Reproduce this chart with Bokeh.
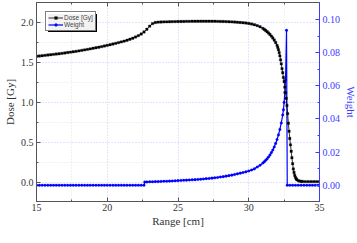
from bokeh.plotting import figure
from bokeh.models import (Range1d, LinearAxis, FixedTicker, Legend, LegendItem,
                          PrintfTickFormatter, BoxAnnotation)
from bokeh.embed import file_html
from bokeh.resources import INLINE

# ---- data ----
dose_range_cm = [
    15.0, 15.2, 15.4, 15.6, 15.8, 16.0, 16.2, 16.4, 16.6, 16.8,
    17.0, 17.2, 17.4, 17.6, 17.8, 18.0, 18.2, 18.4, 18.6, 18.8,
    19.0, 19.2, 19.4, 19.6, 19.8, 20.0, 20.2, 20.4, 20.6, 20.8,
    21.0, 21.2, 21.4, 21.6, 21.8, 22.0, 22.2, 22.4, 22.6, 22.8,
    23.0, 23.2, 23.4, 23.6, 23.8, 24.0, 24.2, 24.4, 24.6, 24.8,
    25.0, 25.2, 25.4, 25.6, 25.8, 26.0, 26.2, 26.4, 26.6, 26.8,
    27.0, 27.2, 27.4, 27.6, 27.8, 28.0, 28.2, 28.4, 28.6, 28.8,
    29.0, 29.2, 29.4, 29.6, 29.8, 30.0, 30.2, 30.4, 30.6, 30.8,
    31.0, 31.1, 31.2, 31.3, 31.4, 31.5, 31.6, 31.7, 31.8, 31.9,
    32.0, 32.05, 32.1, 32.15, 32.2, 32.25, 32.3, 32.35, 32.4, 32.45,
    32.5, 32.55, 32.6, 32.65, 32.7, 32.75, 32.8, 32.85, 32.9, 32.95,
    33.0, 33.05, 33.1, 33.15, 33.2, 33.25, 33.3, 33.35, 33.4, 33.5,
    33.6, 33.7, 33.8, 34.0, 34.2, 34.4, 34.6, 34.8, 35.0,
]
dose_gy = [
    1.575, 1.578, 1.582, 1.586, 1.590, 1.594, 1.598, 1.602, 1.606, 1.611,
    1.616, 1.621, 1.626, 1.631, 1.636, 1.642, 1.648, 1.654, 1.660, 1.667,
    1.674, 1.681, 1.688, 1.695, 1.703, 1.711, 1.719, 1.727, 1.736, 1.745,
    1.754, 1.764, 1.775, 1.787, 1.800, 1.815, 1.832, 1.852, 1.878, 1.912,
    1.950, 1.982, 1.996, 2.000, 2.002, 2.003, 2.004, 2.005, 2.006, 2.007,
    2.008, 2.008, 2.009, 2.010, 2.010, 2.011, 2.011, 2.012, 2.012, 2.012,
    2.012, 2.012, 2.011, 2.011, 2.010, 2.009, 2.008, 2.007, 2.005, 2.003,
    2.001, 1.999, 1.996, 1.993, 1.989, 1.984, 1.977, 1.968, 1.957, 1.942,
    1.922, 1.909, 1.895, 1.880, 1.864, 1.846, 1.826, 1.803, 1.777, 1.747,
    1.710, 1.685, 1.655, 1.620, 1.580, 1.530, 1.480, 1.420, 1.370, 1.310,
    1.260, 1.190, 1.120, 1.050, 0.960, 0.860, 0.740, 0.640, 0.550, 0.470,
    0.390, 0.310, 0.235, 0.170, 0.125, 0.090, 0.065, 0.048, 0.036, 0.024,
    0.018, 0.015, 0.013, 0.012, 0.012, 0.012, 0.012, 0.012, 0.012,
]

weight_range_cm = [
    15.0, 15.2, 15.4, 15.6, 15.8, 16.0, 16.2, 16.4, 16.6, 16.8,
    17.0, 17.2, 17.4, 17.6, 17.8, 18.0, 18.2, 18.4, 18.6, 18.8,
    19.0, 19.2, 19.4, 19.6, 19.8, 20.0, 20.2, 20.4, 20.6, 20.8,
    21.0, 21.2, 21.4, 21.6, 21.8, 22.0, 22.2, 22.4, 22.6,
    22.65, 22.8, 23.0, 23.2, 23.4, 23.6, 23.8, 24.0, 24.2, 24.4,
    24.6, 24.8, 25.0, 25.2, 25.4, 25.6, 25.8, 26.0, 26.2, 26.4,
    26.6, 26.8, 27.0, 27.2, 27.4, 27.6, 27.8, 28.0, 28.2, 28.4,
    28.6, 28.8, 29.0, 29.2, 29.4, 29.6, 29.8, 30.0, 30.2, 30.4,
    30.6, 30.8, 31.0, 31.1, 31.2, 31.3, 31.4, 31.5, 31.6, 31.7,
    31.8, 31.9, 32.0, 32.1, 32.2, 32.3, 32.4, 32.45, 32.5, 32.55,
    32.6, 32.67, 32.72, 32.9, 33.1, 33.3, 33.5, 33.7, 33.9, 34.1,
    34.3, 34.5, 34.7, 34.9, 35.0,
]
weight = [
    0, 0, 0, 0, 0, 0, 0, 0, 0, 0,
    0, 0, 0, 0, 0, 0, 0, 0, 0, 0,
    0, 0, 0, 0, 0, 0, 0, 0, 0, 0,
    0, 0, 0, 0, 0, 0, 0, 0, 0,
    0.0020, 0.0020, 0.0021, 0.0021, 0.0022, 0.0022, 0.0023, 0.0024, 0.0024, 0.0025,
    0.0026, 0.0027, 0.0028, 0.0029, 0.0030, 0.0031, 0.0032, 0.0033, 0.0034, 0.0035,
    0.0036, 0.0038, 0.0040, 0.0041, 0.0043, 0.0045, 0.0047, 0.0050, 0.0052, 0.0055,
    0.0058, 0.0061, 0.0065, 0.0069, 0.0073, 0.0077, 0.0081, 0.0086, 0.0092, 0.0099,
    0.0110, 0.0121, 0.0134, 0.0142, 0.0151, 0.0160, 0.0171, 0.0183, 0.0197, 0.0213,
    0.0231, 0.0252, 0.0276, 0.0304, 0.0337, 0.0376, 0.0424, 0.0455, 0.0500, 0.0560,
    0.0635, 0.0935, 0, 0, 0, 0, 0, 0, 0, 0,
    0, 0, 0, 0, 0,
]

x_ticks = [15, 20, 25, 30, 35]
x_minor_ticks = [17.5, 22.5, 27.5, 32.5]
dose_ticks = [0.0, 0.5, 1.0, 1.5, 2.0]
dose_minor_ticks = [0.25, 0.75, 1.25, 1.75]
weight_ticks = [0.0, 0.02, 0.04, 0.06, 0.08, 0.10]
weight_minor_ticks = [0.01, 0.03, 0.05, 0.07, 0.09]

SERIF = "Liberation Serif"
AXIS_BLUE = "#3c3cff"
GRAY = "#555555"

X0, X1 = 15, 35
Y0, Y1 = -0.236, 2.245
W0, W1 = -0.0098, 0.1103
FW, FH = 283, 199

p = figure(frame_width=FW, frame_height=FH, output_backend="svg", toolbar_location=None,
           x_range=Range1d(X0, X1), y_range=Range1d(Y0, Y1),
           min_border_left=28, min_border_right=30, min_border_top=2,
           min_border_bottom=24)
p.extra_y_ranges = {"w": Range1d(W0, W1)}
p.outline_line_color = GRAY
p.background_fill_color = "white"

xt = FixedTicker(ticks=x_ticks, minor_ticks=x_minor_ticks)
yt = FixedTicker(ticks=dose_ticks, minor_ticks=dose_minor_ticks)
wt = FixedTicker(ticks=weight_ticks, minor_ticks=weight_minor_ticks)

def style_axis(ax, color, lbl_color):
    ax.axis_line_color = color
    ax.major_tick_line_color = color
    ax.minor_tick_line_color = color
    ax.major_tick_in = 4
    ax.major_tick_out = 0
    ax.minor_tick_in = 2
    ax.minor_tick_out = 0
    ax.major_label_text_font = SERIF
    ax.major_label_text_font_size = "10px"
    ax.major_label_text_color = lbl_color
    ax.axis_label_text_font = SERIF
    ax.axis_label_text_font_size = "11px"
    ax.axis_label_text_font_style = "normal"
    ax.axis_label_text_color = lbl_color
    ax.major_label_standoff = 3
    ax.axis_label_standoff = 2

p.xaxis.ticker = xt
p.yaxis.ticker = yt
p.xaxis.formatter = PrintfTickFormatter(format="%d")
p.yaxis.formatter = PrintfTickFormatter(format="%.1f")
p.xaxis.axis_label = "Range [cm]"
p.yaxis.axis_label = "Dose [Gy]"
style_axis(p.xaxis[0], GRAY, "#333333")
style_axis(p.yaxis[0], GRAY, "#333333")
p.xaxis[0].major_label_standoff = 2
p.xaxis[0].axis_label_standoff = 1

top_ax = LinearAxis(ticker=xt)
style_axis(top_ax, GRAY, "#333333")
top_ax.major_label_text_font_size = "1px"
top_ax.major_label_text_color = None
top_ax.major_label_standoff = 0
p.add_layout(top_ax, "above")

w_ax = LinearAxis(y_range_name="w", ticker=wt, axis_label="Weight",
                  formatter=PrintfTickFormatter(format="%.2f"))
style_axis(w_ax, AXIS_BLUE, AXIS_BLUE)
p.add_layout(w_ax, "right")

p.xgrid.ticker = xt
p.ygrid.ticker = yt
for g in (p.xgrid[0], p.ygrid[0]):
    g.grid_line_color = "#c8c8f4"
    g.grid_line_dash = "1 2"
    g.minor_grid_line_color = "#d4ecd4"
    g.minor_grid_line_dash = "1 2"

# legend drop shadow (screen-pixel offsets inside the frame converted to data units)
def fx(px):
    return X0 + px * (X1 - X0) / FW

def fy(py):
    return Y1 - py * (Y1 - Y0) / FH

LM, LW, LH, SH = 9, 49, 18, 2.5
p.add_layout(BoxAnnotation(left=fx(LM + SH), right=fx(LM + LW + SH),
                           top=fy(LM + SH), bottom=fy(LM + LH + SH),
                           fill_color="black", fill_alpha=1.0, line_color=None,
                           level="annotation"))

wl = p.line(weight_range_cm, weight, y_range_name="w", line_color="blue", line_width=1.2)
ws = p.scatter(weight_range_cm, weight, y_range_name="w", marker="circle", size=2.6,
               fill_color="blue", line_color="blue", line_width=0.3)
dl = p.line(dose_range_cm, dose_gy, line_color="black", line_width=0.8)
ds = p.scatter(dose_range_cm, dose_gy, marker="square", size=2.4,
               fill_color="black", line_color="black", line_width=0.3)

legend = Legend(items=[LegendItem(label="Dose [Gy]", renderers=[dl, ds]),
                       LegendItem(label="Weight", renderers=[wl, ws])],
                location="top_left")
legend.label_text_font = "Liberation Sans"
legend.label_text_font_size = "6.5px"
legend.glyph_width = 15
legend.glyph_height = 7
legend.label_height = 7
legend.label_standoff = 1
legend.spacing = 0
legend.padding = 2
legend.margin = LM
legend.border_line_color = "black"
legend.border_line_width = 1
p.add_layout(legend)

open("out.html", "w").write(file_html(p, INLINE))
